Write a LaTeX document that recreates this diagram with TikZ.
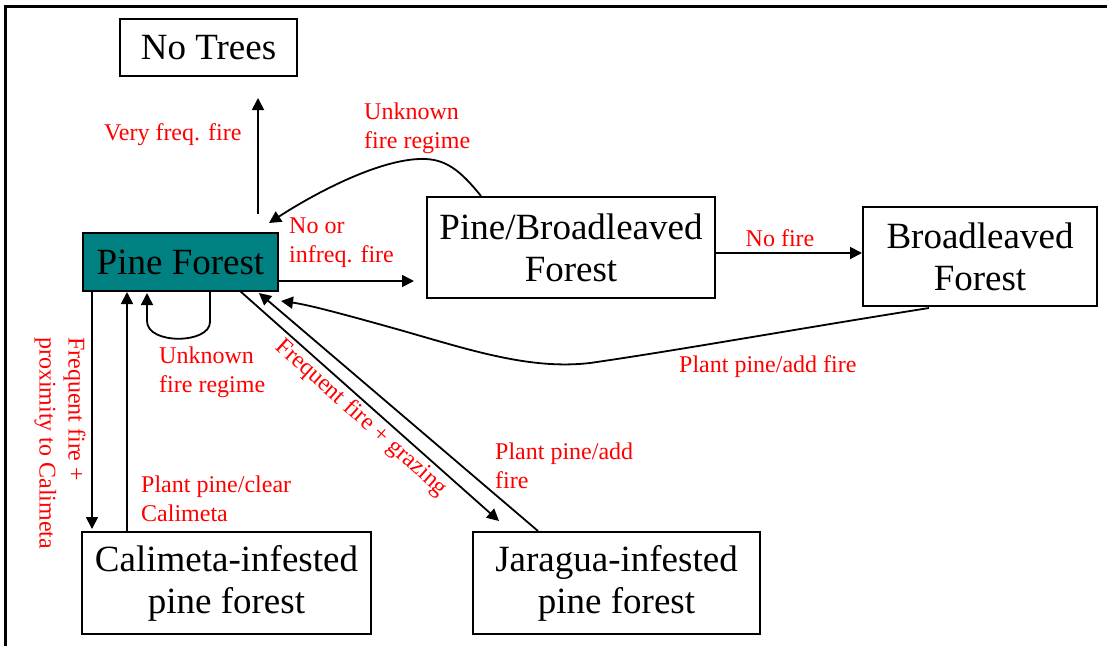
\documentclass[tikz,border=0pt]{standalone}
\usepackage{fontspec}
\setmainfont{Liberation Serif}
\usetikzlibrary{arrows.meta,calc}
\definecolor{pfteal}{HTML}{008080}
\begin{document}
\begin{tikzpicture}[x=1pt,y=-1pt,
  box/.style={draw, line width=2pt, inner sep=0pt, align=center, font=\fontsize{37}{42}\selectfont},
  lbl/.style={text=red, inner sep=0pt, align=left, font=\fontsize{24}{29}\selectfont},
  arr/.style={line width=1.8pt, -{Triangle[length=12pt,width=12pt]}},
  conn/.style={line width=1.8pt}]
\useasboundingbox (0,0) rectangle (1107,645);
\draw[line width=3pt] (1115,6) -- (5,6) -- (5,655);

% states
\node[box, minimum width=177pt, minimum height=57pt] (nt) at (208.5,47.5) {No Trees};
\node[box, fill=pfteal, minimum width=195pt, minimum height=58pt] (pf) at (180.5,262) {Pine Forest};
\node[box, minimum width=288pt, minimum height=101pt] (pb) at (571,247.5) {Pine/Broadleaved\\Forest};
\node[box, minimum width=234pt, minimum height=99pt] (bf) at (980,256.5) {Broadleaved\\Forest};
\node[box, minimum width=289pt, minimum height=102pt] (cal) at (226.5,583) {Calimeta-infested\\pine forest};
\node[box, minimum width=287pt, minimum height=102pt] (jar) at (616.5,583) {Jaragua-infested\\pine forest};

% transitions
\draw[arr] ($(pf.north)+(77.5,-18)$) -- ($(nt.south)+(49.5,21)$);
\draw[arr] ($(pb.north west)+(55,0)$) .. controls (460,170) and (445,158) .. (420,159)
  .. controls (380,160) and (320,190) .. ($(pf.north east)+(-10,-9)$);
\draw[arr] ($(pf.east)+(0,19)$) -- ($(pb.west)+(-12,33.5)$);
\draw[arr] ($(pb.east)+(0,5.5)$) -- ($(bf.west)+(0,-3.5)$);
\draw[arr] ($(bf.south west)+(67,1)$) .. controls (790,330) and (680,350) .. (590,363)
  .. controls (530,370) and (470,350) .. (400,330)
  .. controls (350,316) and (310,305) .. ($(pf.south east)+(2,9)$);
\coordinate (l1) at ($(pf.south west)+(128,0)$);
\coordinate (l2) at ($(pf.south west)+(65,1)$);
\draw[arr] (l1) -- ($(l1)+(0,30)$) .. controls ($(l1)+(0,52)$) and ($(l2)+(0,52)$) .. ($(l2)+(0,28)$) -- (l2);
\draw[arr] ($(pf.south west)+(10,0)$) -- ($(cal.north west)+(11,-2)$);
\draw[arr] ($(cal.north west)+(46,0)$) -- ($(pf.south west)+(45,0)$);
\draw[arr] ($(pf.south west)+(158,-1)$) -- ($(jar.north west)+(27,-10)$);
\draw[arr] ($(jar.north west)+(66,0)$) -- ($(pf.south west)+(177,1)$);

% labels
\node[lbl, anchor=west] (t1) at (104,135) {Very freq. fire};
\node[lbl, anchor=west] (t2) at (364,128) {Unknown\\fire regime};
\node[lbl, anchor=west] (t3) at (289,243) {No or\\infreq. fire};
\node[lbl] (t4) at (780,238) {No fire};
\node[lbl, anchor=west] (t5) at (679,367) {Plant pine/add fire};
\node[lbl, anchor=west] (t6) at (159,372) {Unknown\\fire regime};
\node[lbl, anchor=west] (t7) at (141,499) {Plant pine/clear\\Calimeta};
\node[lbl, anchor=west] (t8) at (495,466) {Plant pine/add\\fire};
\node[lbl, rotate=-41.8] (t9) at (361,418) {Frequent fire + grazing};
\node[lbl, rotate=-90] (t10) at (60,443) {Frequent fire +\\proximity to Calimeta};
\end{tikzpicture}
\end{document}
